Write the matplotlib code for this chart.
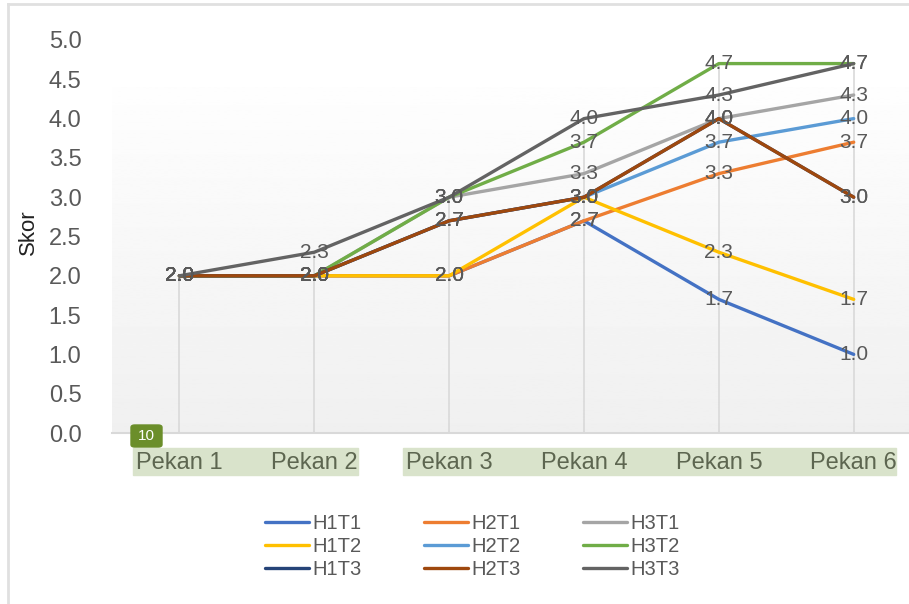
import matplotlib
matplotlib.use("Agg")
import matplotlib.pyplot as plt
import numpy as np
from matplotlib.patches import Rectangle, FancyBboxPatch

plt.rcParams["font.family"] = ["Liberation Sans", "DejaVu Sans"]

# ----- Data -----
weeks = ["Pekan 1", "Pekan 2", "Pekan 3", "Pekan 4", "Pekan 5", "Pekan 6"]
H1T1 = [2.0, 2.0, 2.0, 2.7, 1.7, 1.0]
H1T2 = [2.0, 2.0, 2.0, 3.0, 2.3, 1.7]
H1T3 = [2.0, 2.0, 2.7, 3.0, 4.0, 3.0]
H2T1 = [2.0, 2.0, 2.0, 2.7, 3.3, 3.7]
H2T2 = [2.0, 2.0, 2.7, 3.0, 3.7, 4.0]
H2T3 = [2.0, 2.0, 2.7, 3.0, 4.0, 3.0]
H3T1 = [2.0, 2.0, 3.0, 3.3, 4.0, 4.3]
H3T2 = [2.0, 2.0, 3.0, 3.7, 4.7, 4.7]
H3T3 = [2.0, 2.3, 3.0, 4.0, 4.3, 4.7]

series = {
    "H1T1": (H1T1, "#4472C4"),
    "H1T2": (H1T2, "#FFC000"),
    "H1T3": (H1T3, "#264478"),
    "H2T1": (H2T1, "#ED7D31"),
    "H2T2": (H2T2, "#5B9BD5"),
    "H2T3": (H2T3, "#9E480E"),
    "H3T1": (H3T1, "#A5A5A5"),
    "H3T2": (H3T2, "#70AD47"),
    "H3T3": (H3T3, "#636363"),
}
# drawing order (Excel series order)
draw_order = ["H1T1", "H2T1", "H3T1", "H1T2", "H2T2", "H3T2", "H1T3", "H2T3", "H3T3"]

W, H = 909, 604
LABEL_GRAY = "#595959"


def px(x, y):
    return x / W, 1 - y / H


def main():
    fig = plt.figure(figsize=(W / 100, H / 100), dpi=100)
    fig.patch.set_facecolor("white")

    # chart border (left / top)
    fig.add_artist(plt.Line2D([8 / W, 8 / W], [0, 1 - 4 / H], color="#e0e0e0", lw=2))
    fig.add_artist(plt.Line2D([8 / W, 1], [1 - 4 / H, 1 - 4 / H], color="#e0e0e0", lw=2))

    left, bottom = px(112, 433)
    _, top = px(0, 40)
    ax = fig.add_axes([left, bottom, 1 - left, top - bottom])
    x = np.arange(len(weeks))
    ax.set_xlim(-0.5, 5.41)
    ax.set_ylim(0, 5)

    # gradient plot-area fill
    grad = np.linspace(0.94, 0.995, 256).reshape(-1, 1)
    ax.imshow(grad, cmap="gray", vmin=0, vmax=1, aspect="auto",
              extent=(-0.5, 5.41, 0, 4.4), origin="lower", zorder=0)

    # drop lines
    all_vals = np.array([v for v, _ in series.values()])
    ax.vlines(x, 0, all_vals.max(axis=0), color="#d9d9d9", lw=1.2, zorder=1)

    lines = {}
    for name in draw_order:
        vals, color = series[name]
        (ln,) = ax.plot(x, vals, color=color, lw=2.4, label=name, zorder=2,
                        solid_capstyle="round", solid_joinstyle="round")
        lines[name] = ln
    for name in draw_order:
        vals, _ = series[name]
        for xi, v in zip(x, vals):
            ax.text(xi, v, f"{v:.1f}", ha="center", va="center", fontsize=15,
                    color=LABEL_GRAY, zorder=5, clip_on=False)

    for s in ["left", "right", "top"]:
        ax.spines[s].set_visible(False)
    ax.spines["bottom"].set_color("#d9d9d9")
    ax.spines["bottom"].set_linewidth(1.5)
    ax.set_xticks(x)
    ax.set_xticklabels(weeks, fontsize=17, color="#5d6650")
    ax.set_yticks(np.arange(0, 5.01, 0.5))
    ax.set_yticklabels([f"{t:.1f}" for t in np.arange(0, 5.01, 0.5)], fontsize=17, color=LABEL_GRAY)
    ax.tick_params(axis="both", length=0)
    ax.tick_params(axis="x", pad=14)
    ax.tick_params(axis="y", pad=22)
    ax.set_facecolor("none")

    fig.text(*px(28, 232), "Skor", rotation=90, ha="center", va="center", fontsize=16, color="#222222")

    # highlighted tick label boxes
    for x0, x1 in [(133, 358), (403, 896)]:
        fig.add_artist(Rectangle((x0 / W, 1 - 475 / H), (x1 - x0) / W, 27 / H,
                                 transform=fig.transFigure, color="#d9e3cb", zorder=0))
    fig.add_artist(FancyBboxPatch((131 / W, 1 - 447 / H), 31 / W, 22 / H,
                                  boxstyle="round,pad=0,rounding_size=0.004",
                                  transform=fig.transFigure, color="#6b8e2a", zorder=3))
    fig.text(*px(146.5, 436), "10", ha="center", va="center", fontsize=11, color="white", zorder=4)

    handles = [lines[n] for n in series]
    fig.legend(handles, list(series), loc="upper left", bbox_to_anchor=px(247, 496),
               ncol=3, frameon=False, fontsize=14.5, handlelength=2.2, handletextpad=0.15,
               columnspacing=3.1, labelspacing=0.2, labelcolor=LABEL_GRAY)

    fig.savefig("out.png", dpi=100)


if __name__ == "__main__":
    main()
